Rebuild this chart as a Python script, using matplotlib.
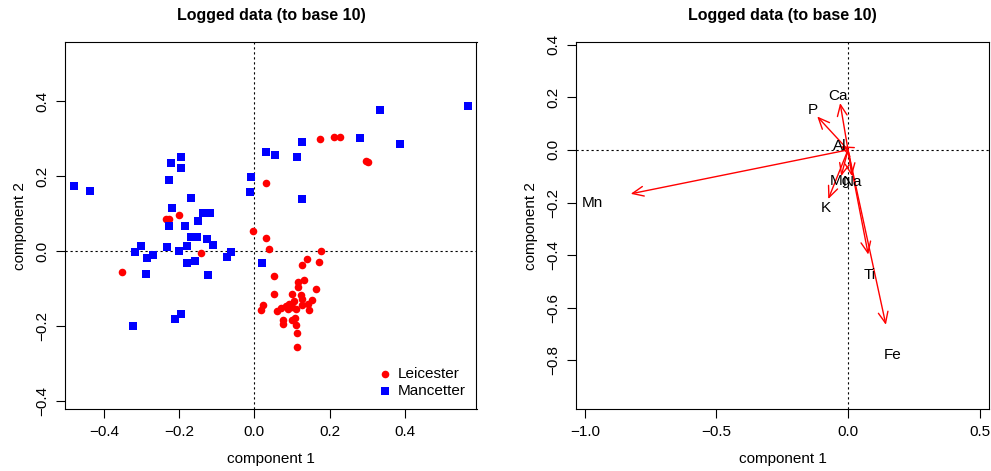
import numpy as np
import matplotlib
matplotlib.use('Agg')
import matplotlib.pyplot as plt

plt.rcParams['font.family'] = ['Liberation Sans', 'DejaVu Sans']

# PCA scores, Leicester (red circles)
leic_x = [0.031, -0.234, -0.227, -0.200, -0.004, 0.031, 0.038, -0.141, -0.353, 0.053,
          0.053, 0.174, 0.211, 0.227, 0.297, 0.302, 0.177, 0.141, 0.173, 0.127,
          0.131, 0.117, 0.117, 0.163, 0.100, 0.123, 0.127, 0.153, 0.106, 0.093,
          0.143, 0.126, 0.024, 0.018, 0.083, 0.072, 0.060, 0.090, 0.110, 0.146,
          0.099, 0.075, 0.077, 0.100, 0.109, 0.112, 0.114, 0.114]
leic_y = [0.183, 0.087, 0.085, 0.097, 0.054, 0.034, 0.006, -0.004, -0.055, -0.065,
          -0.114, 0.298, 0.304, 0.305, 0.241, 0.237, 0.000, -0.022, -0.030, -0.038,
          -0.076, -0.082, -0.096, -0.101, -0.113, -0.116, -0.127, -0.129, -0.134, -0.141,
          -0.140, -0.143, -0.143, -0.158, -0.147, -0.152, -0.159, -0.154, -0.155, -0.157,
          -0.148, -0.183, -0.194, -0.183, -0.177, -0.197, -0.217, -0.256]

# PCA scores, Mancetter (blue squares)
manc_x = [-0.481, -0.436, -0.194, -0.223, -0.196, -0.227, -0.169, -0.218, -0.137, -0.119,
          -0.151, -0.227, -0.184, -0.169, -0.153, -0.126, -0.110, -0.302, -0.232, -0.180,
          -0.318, -0.200, -0.270, -0.286, -0.062, -0.073, -0.178, -0.157, -0.288, -0.124,
          0.031, 0.056, -0.008, -0.012, 0.021, -0.324, -0.210, -0.194, 0.334, 0.569,
          0.126, 0.282, 0.387, 0.113, 0.128]
manc_y = [0.174, 0.161, 0.250, 0.234, 0.223, 0.189, 0.143, 0.116, 0.103, 0.103,
          0.081, 0.067, 0.068, 0.038, 0.038, 0.033, 0.017, 0.015, 0.012, 0.014,
          -0.002, 0.000, -0.009, -0.019, -0.002, -0.016, -0.031, -0.027, -0.061, -0.064,
          0.264, 0.256, 0.199, 0.159, -0.031, -0.200, -0.182, -0.167, 0.376, 0.387,
          0.290, 0.301, 0.287, 0.250, 0.140]

# loadings: arrow tips and label positions
elements = ['Ca', 'P', 'Al', 'Mn', 'K', 'Mg', 'Na', 'Ti', 'Fe']
tip_x = [-0.030, -0.117, -0.028, -0.826, -0.075, -0.026, 0.015, 0.077, 0.144]
tip_y = [0.178, 0.127, 0.014, -0.167, -0.187, -0.100, -0.100, -0.398, -0.665]
lab_x = [-0.039, -0.134, -0.033, -0.971, -0.086, -0.030, 0.018, 0.084, 0.170]
lab_y = [0.203, 0.150, 0.016, -0.202, -0.222, -0.120, -0.121, -0.475, -0.780]

W, H = 991, 471
fig = plt.figure(figsize=(W / 100, H / 100), dpi=100)
ax1 = fig.add_axes([65.3 / W, 1 - 409 / H, 411.2 / W, 366.7 / H])
ax2 = fig.add_axes([576 / W, 1 - 409 / H, 413 / W, 366.7 / H])

for ax in (ax1, ax2):
    ax.tick_params(direction='out', length=6.7, width=0.8, labelsize=11, pad=4.5)
    for s in ax.spines.values():
        s.set_linewidth(0.8)
    ax.axhline(0, color='black', linestyle=(0, (2, 2.5)), linewidth=0.8, zorder=1)
    ax.axvline(0, color='black', linestyle=(0, (2, 2.5)), linewidth=0.8, zorder=1)
    ax.set_title('Logged data (to base 10)', fontsize=11.5, fontweight='bold', pad=16)
    ax.set_xlabel('component 1', fontsize=11, labelpad=10)
    ax.set_ylabel('component 2', fontsize=11, labelpad=6)

# left: scores
ax1.scatter(leic_x, leic_y, s=30, marker='o', color='#FF0000', linewidths=0,
            label='Leicester', zorder=3)
ax1.scatter(manc_x, manc_y, s=38, marker='s', color='#0000FF', linewidths=0,
            label='Mancetter', zorder=3)
ax1.set_xlim(-0.503, 0.591)
ax1.set_ylim(-0.421, 0.557)
ax1.set_xticks([-0.4, -0.2, 0.0, 0.2, 0.4])
ax1.set_yticks([-0.4, -0.2, 0.0, 0.2, 0.4])
ax1.set_xticklabels(['\u22120.4', '\u22120.2', '0.0', '0.2', '0.4'])
ax1.set_yticklabels(['\u22120.4', '\u22120.2', '0.0', '0.2', '0.4'], rotation=90, va='center')
ax1.legend(loc='lower right', frameon=False, fontsize=11, handletextpad=0.3,
           handlelength=1.1, labelspacing=0.2, borderaxespad=0.3, markerscale=1.0)

# right: loadings
for i in range(len(elements)):
    ax2.annotate('', xy=(tip_x[i], tip_y[i]), xytext=(0, 0),
                 arrowprops=dict(arrowstyle='->,head_length=0.8,head_width=0.35',
                                 color='#FF0000', lw=1.0, shrinkA=0, shrinkB=0,
                                 mutation_scale=10), zorder=3)
    ax2.text(lab_x[i], lab_y[i], elements[i], fontsize=11, ha='center', va='center',
             zorder=4)
ax2.set_xlim(-1.034, 0.536)
ax2.set_ylim(-0.985, 0.409)
ax2.set_xticks([-1.0, -0.5, 0.0, 0.5])
ax2.set_yticks([-0.8, -0.6, -0.4, -0.2, 0.0, 0.2, 0.4])
ax2.set_xticklabels(['\u22121.0', '\u22120.5', '0.0', '0.5'])
ax2.set_yticklabels(['\u22120.8', '\u22120.6', '\u22120.4', '\u22120.2', '0.0', '0.2', '0.4'],
                    rotation=90, va='center')

fig.savefig('out.png', dpi=100)
